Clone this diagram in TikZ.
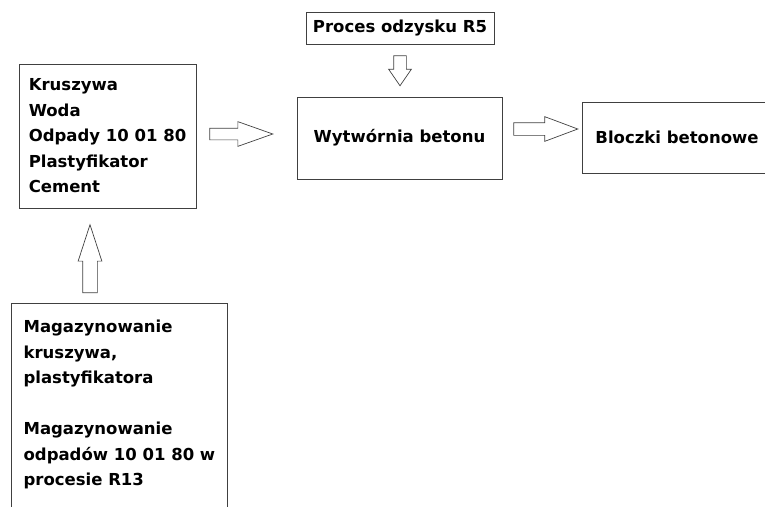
\documentclass[tikz,border=0pt]{standalone}
\usepackage{fontspec}
\setmainfont{DejaVu Sans}
\usetikzlibrary{shapes}
\tikzset{
box/.style={draw=black!75,line width=0.8pt,inner sep=0pt,align=left,font=\bfseries\fontsize{16.5}{25.5}\selectfont},
blockarr/.style={single arrow,draw=black!75,line width=0.7pt,inner xsep=0pt,anchor=tail,single arrow head indent=0pt}
}
\begin{document}
\begin{tikzpicture}[x=1pt,y=-1pt]
\clip(0,0)rectangle(765,506);
\node[box,minimum width=177,minimum height=144](in)at(107.5,136){Kruszywa\\Woda\\Odpady 10 01 80\\Plastyfikator\\Cement};
\node[box,minimum width=205,minimum height=82](plant)at(399.5,138){Wytwórnia betonu};
\node[box,minimum width=188,minimum height=32](r5)at(400,28){Proces odzysku R5};
\node[box,minimum width=190,minimum height=71](out)at(677,137.5){Bloczki betonowe};
\node[box,minimum width=216,inner ysep=17pt,anchor=north west](store)at(11,303){Magazynowanie\\kruszywa,\\plastyfikatora\\\mbox{}\\Magazynowanie\\odpadów 10 01 80 w\\procesie R13\\\mbox{}};
\node[blockarr,minimum height=63,inner ysep=5.5pt,single arrow head extend=6.5,single arrow tip angle=39](a1)at([xshift=13,yshift=2]in.east){};
\node[blockarr,minimum height=64,inner ysep=6pt,single arrow head extend=6,single arrow tip angle=41](a2)at([xshift=11,yshift=9]plant.east){};
\node[blockarr,rotate=-90,minimum height=30,inner ysep=6pt,single arrow head extend=5,single arrow tip angle=69](a3)at([yshift=-11]r5.south){};
\node[blockarr,rotate=90,minimum height=68,inner ysep=7pt,single arrow head extend=4.5,single arrow tip angle=36](a4)at([xshift=79,yshift=10]store.north west){};
\end{tikzpicture}
\end{document}
